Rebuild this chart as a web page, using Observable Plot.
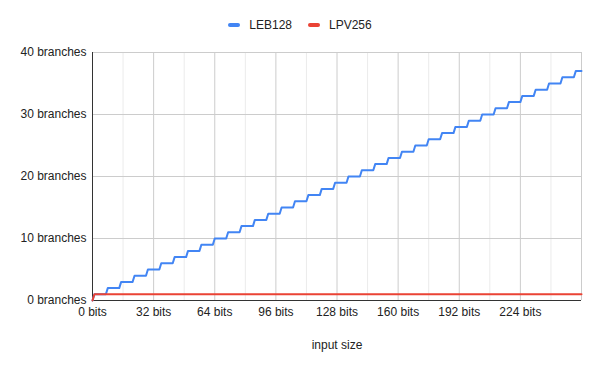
<!DOCTYPE html>
<html>
<head>
<meta charset="utf-8">
<script src="https://cdn.jsdelivr.net/npm/d3@7"></script>
<script src="https://cdn.jsdelivr.net/npm/@observablehq/plot@0.6"></script>
<style>
  html, body { margin: 0; padding: 0; background: #fff; }
  body { width: 600px; height: 371px; overflow: hidden; font-family: "Liberation Sans", Arial, sans-serif; }
  #legend { position: relative; height: 40px; }
  #legend .items { position: absolute; left: 0; right: 0; top: 18px; display: flex; justify-content: center; gap: 16px; font-size: 12px; line-height: 14px; color: #222; }
  #legend .item { display: flex; align-items: center; }
  #legend .sw { width: 12px; height: 4px; border-radius: 2px; margin-right: 9px; }
  #chart svg { display: block; }
</style>
</head>
<body>
<div id="legend"></div>
<div id="chart"></div>
<script>
// ---- data ----
const seriesNames = ["LEB128", "LPV256"];
const seriesColors = ["#4285F4", "#EA4335"];

// vertices of the LEB128 step line (input bits -> branches)
const leb128Bits = [0,
  1, 7, 8, 14, 15, 21, 22, 28, 29, 35, 36, 42, 43, 49, 50, 56, 57, 63, 64, 70,
  71, 77, 78, 84, 85, 91, 92, 98, 99, 105, 106, 112, 113, 119, 120, 126, 127, 133,
  134, 140, 141, 147, 148, 154, 155, 161, 162, 168, 169, 175, 176, 182, 183, 189,
  190, 196, 197, 203, 204, 210, 211, 217, 218, 224, 225, 231, 232, 238, 239, 245,
  246, 252, 253, 256];
const leb128Branches = [0,
  1, 1, 2, 2, 3, 3, 4, 4, 5, 5, 6, 6, 7, 7, 8, 8, 9, 9, 10, 10,
  11, 11, 12, 12, 13, 13, 14, 14, 15, 15, 16, 16, 17, 17, 18, 18, 19, 19,
  20, 20, 21, 21, 22, 22, 23, 23, 24, 24, 25, 25, 26, 26, 27, 27,
  28, 28, 29, 29, 30, 30, 31, 31, 32, 32, 33, 33, 34, 34, 35, 35,
  36, 36, 37, 37];

const lpv256Bits = [0, 1, 256];
const lpv256Branches = [0, 1, 1];

const xTicks = [0, 32, 64, 96, 128, 160, 192, 224];
const xMajorGrid = [32, 64, 96, 128, 160, 192, 224, 256];
const xMinorGrid = [16, 48, 80, 112, 144, 176, 208, 240];
const yTicks = [0, 10, 20, 30, 40];
const xAxisTitle = ["input size"];

// ---- build tables ----
const leb = leb128Bits.map((b, i) => ({bits: b, branches: leb128Branches[i], series: seriesNames[0]}));
const lpv = lpv256Bits.map((b, i) => ({bits: b, branches: lpv256Branches[i], series: seriesNames[1]}));

// ---- legend ----
const legend = document.getElementById("legend");
const items = document.createElement("div");
items.className = "items";
seriesNames.forEach((n, i) => {
  const it = document.createElement("div");
  it.className = "item";
  const sw = document.createElement("span");
  sw.className = "sw";
  sw.style.background = seriesColors[i];
  const tx = document.createElement("span");
  tx.textContent = n;
  it.appendChild(sw); it.appendChild(tx);
  items.appendChild(it);
});
legend.appendChild(items);

// ---- chart ----
const chart = Plot.plot({
  width: 600,
  height: 331,
  marginLeft: 92,
  marginRight: 19,
  marginTop: 12,
  marginBottom: 71,
  style: {fontFamily: "'Liberation Sans', Arial, sans-serif", fontSize: "12px", color: "#222", background: "#fff"},
  x: {domain: [0, 256]},
  y: {domain: [0, 40]},
  marks: [
    Plot.ruleX(xMinorGrid, {stroke: "#ebebeb", strokeWidth: 1}),
    Plot.ruleX(xMajorGrid, {stroke: "#cccccc", strokeWidth: 1}),
    Plot.ruleY(yTicks.filter(d => d > 0), {stroke: "#cccccc", strokeWidth: 1}),
    Plot.axisX(xTicks, {tickSize: 0, tickPadding: 7, tickFormat: d => `${d} bits`, label: null, fill: "#222"}),
    Plot.axisY(yTicks, {tickSize: 0, tickPadding: 6, tickFormat: d => `${d} branches`, label: null, fill: "#222"}),
    Plot.text(xAxisTitle, {frameAnchor: "bottom", dy: 48, fill: "#222", fontSize: 12}),
    Plot.ruleY([0], {stroke: "#333", strokeWidth: 1}),
    Plot.ruleX([0], {stroke: "#333", strokeWidth: 1}),
    Plot.line(leb, {x: "bits", y: "branches", stroke: seriesColors[0], strokeWidth: 2, strokeLinejoin: "round"}),
    Plot.line(lpv, {x: "bits", y: "branches", stroke: seriesColors[1], strokeWidth: 2, strokeLinejoin: "round"})
  ]
});
document.getElementById("chart").appendChild(chart);
</script>
</body>
</html>
